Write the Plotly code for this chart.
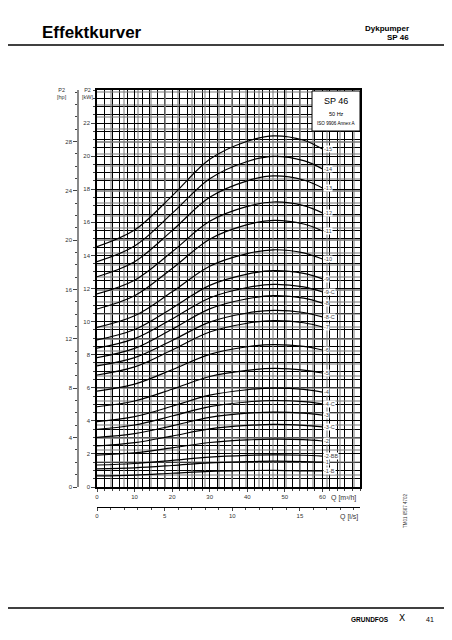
import plotly.graph_objects as go

# page geometry: the html body adds an 8 px margin, so the figure is 8 px smaller
OFF = 8
W, H = 452 - OFF, 640 - OFF
ML, MR, MT, MB = 32, 92, 82, 120
PW = W - ML - MR
PH = H - MT - MB


def px(x):
    # page pixel x -> paper coord
    return (x - OFF - ML) / PW


def py(y):
    # page pixel y -> paper coord
    return (H - MB - (y - OFF)) / PH


# flow points (m3/h) where the curves were read
q_points = [0, 10, 20, 30, 40, 47, 55, 60]

# P2 [kW] per pump model
p_15 = [14.53, 15.53, 17.60, 19.81, 20.90, 21.23, 20.96, 20.43]
p_14 = [13.62, 14.57, 16.54, 18.64, 19.68, 19.99, 19.73, 19.23]
p_13 = [12.71, 13.62, 15.50, 17.52, 18.51, 18.81, 18.56, 18.08]
p_12 = [11.67, 12.50, 14.22, 16.06, 16.96, 17.23, 17.01, 16.57]
p_11 = [10.76, 11.56, 13.21, 14.98, 15.86, 16.12, 15.90, 15.48]
p_10 = [9.65, 10.35, 11.80, 13.35, 14.11, 14.34, 14.15, 13.78]
p_9 = [8.89, 9.52, 10.81, 12.19, 12.87, 13.08, 12.91, 12.58]
p_9c = [8.39, 8.97, 10.16, 11.43, 12.06, 12.25, 12.10, 11.79]
p_8 = [7.82, 8.38, 9.54, 10.77, 11.38, 11.57, 11.42, 11.12]
p_8c = [7.32, 7.82, 8.86, 9.97, 10.52, 10.68, 10.55, 10.28]
p_7 = [6.77, 7.26, 8.28, 9.37, 9.90, 10.06, 9.93, 9.67]
p_6 = [5.80, 6.22, 7.09, 8.02, 8.48, 8.61, 8.50, 8.28]
p_5 = [4.85, 5.20, 5.91, 6.68, 7.05, 7.17, 7.07, 6.89]
p_4 = [3.95, 4.25, 4.88, 5.55, 5.88, 5.98, 5.90, 5.74]
p_4c = [3.49, 3.75, 4.29, 4.86, 5.14, 5.23, 5.16, 5.02]
p_3 = [3.00, 3.23, 3.70, 4.21, 4.46, 4.53, 4.47, 4.35]
p_3c = [2.48, 2.68, 3.08, 3.51, 3.72, 3.79, 3.73, 3.63]
p_2 = [1.93, 2.07, 2.37, 2.69, 2.85, 2.89, 2.86, 2.78]
p_2bb = [1.33, 1.42, 1.61, 1.81, 1.91, 1.94, 1.92, 1.87]
p_1 = [1.09, 1.16, 1.30, 1.46, 1.53, 1.56, 1.54, 1.50]
p_1b = [0.67, 0.72, 0.83, 0.94, 0.99, 1.01, 0.98, 0.97]

curves = [
    ("15", p_15), ("14", p_14), ("13", p_13), ("12", p_12), ("11", p_11),
    ("10", p_10), ("9", p_9), ("9-C", p_9c), ("8", p_8), ("8-C", p_8c),
    ("7", p_7), ("6", p_6), ("5", p_5), ("4", p_4), ("4-C", p_4c),
    ("3", p_3), ("3-C", p_3c), ("2", p_2), ("2-BB", p_2bb), ("1", p_1),
    ("1-B", p_1b),
]

q_ticks = [0, 10, 20, 30, 40, 50, 60]
ls_ticks = [0, 5, 10, 15]
kw_ticks = list(range(0, 23, 2))
hp_ticks = list(range(0, 29, 4))

Q_MAX = 70
KW_MAX = 24
M3H_PER_LS = 3.6
KW_PER_HP = 0.7457

FONT = "Liberation Sans"
GRAY_GRID = "rgba(120,120,120,0.5)"

fig = go.Figure()

for name, vals in curves:
    fig.add_trace(go.Scatter(
        x=q_points, y=vals, mode="lines",
        line=dict(color="black", width=1.2, shape="spline", smoothing=1.0),
        hoverinfo="skip", showlegend=False,
    ))
    fig.add_annotation(
        x=60.2, y=vals[-1], xref="x", yref="y", text="-" + name,
        showarrow=False, xanchor="left", yanchor="middle",
        font=dict(family=FONT, size=5.5, color="#444"),
        bgcolor="white", borderpad=0,
    )

# invisible traces so the l/s and hp overlay axes get their subplots
fig.add_trace(go.Scatter(x=[0], y=[0], xaxis="x2", yaxis="y", mode="markers",
                         marker=dict(opacity=0), hoverinfo="skip", showlegend=False))
fig.add_trace(go.Scatter(x=[0], y=[0], xaxis="x", yaxis="y2", mode="markers",
                         marker=dict(opacity=0), hoverinfo="skip", showlegend=False))

x_dom = [px(97), 1]
y_dom = [py(487), 1]

fig.update_layout(
    width=W, height=H,
    margin=dict(l=ML, r=MR, t=MT, b=MB, autoexpand=False),
    paper_bgcolor="white", plot_bgcolor="white",
    font=dict(family=FONT, color="black"),
    xaxis=dict(
        domain=x_dom, range=[0, Q_MAX], anchor="y",
        tickmode="array", tickvals=q_ticks, ticks="outside", ticklen=3,
        tickfont=dict(size=6, color="#333"),
        showgrid=True, gridcolor="black", gridwidth=0.9,
        minor=dict(dtick=2, tick0=0, showgrid=True, gridcolor="black",
                   gridwidth=0.9, ticks="outside", ticklen=2),
        showline=True, mirror=True, linecolor="black", linewidth=1.5,
        zeroline=False,
    ),
    yaxis=dict(
        domain=y_dom, range=[0, KW_MAX], anchor="x",
        tickmode="array", tickvals=kw_ticks, ticks="outside", ticklen=4,
        tickfont=dict(size=6, color="#333"),
        showgrid=True, gridcolor="black", gridwidth=0.9,
        minor=dict(dtick=0.5, tick0=0, showgrid=True, gridcolor="black",
                   gridwidth=0.9, ticks="outside", ticklen=2),
        showline=True, mirror=True, linecolor="black", linewidth=1.5,
        zeroline=False,
    ),
    xaxis2=dict(
        domain=x_dom, range=[0, Q_MAX / M3H_PER_LS], overlaying="x",
        anchor="free", position=py(507), side="bottom",
        tickmode="array", tickvals=ls_ticks, ticks="outside", ticklen=3,
        tickfont=dict(size=6, color="#333"),
        showgrid=True, gridcolor=GRAY_GRID, gridwidth=2,
        minor=dict(dtick=1, tick0=0, showgrid=True, gridcolor=GRAY_GRID,
                   gridwidth=2, ticks="outside", ticklen=2),
        showline=True, linecolor="black", linewidth=1, zeroline=False,
    ),
    yaxis2=dict(
        domain=y_dom, range=[0, KW_MAX / KW_PER_HP], overlaying="y",
        anchor="free", position=px(78), side="left",
        tickmode="array", tickvals=hp_ticks, ticks="outside", ticklen=4,
        tickfont=dict(size=6, color="#333"),
        showgrid=True, gridcolor=GRAY_GRID, gridwidth=2,
        minor=dict(dtick=1, tick0=0, showgrid=True, gridcolor=GRAY_GRID,
                   gridwidth=2, ticks="outside", ticklen=2),
        showline=True, linecolor="#888", linewidth=1.5, zeroline=False,
    ),
)

# header / footer rules
fig.add_shape(type="line", xref="paper", yref="paper",
              x0=px(OFF), x1=px(452 + OFF), y0=py(45), y1=py(45),
              line=dict(color="black", width=1.5))
fig.add_shape(type="line", xref="paper", yref="paper",
              x0=px(OFF), x1=px(452 + OFF), y0=py(608), y1=py(608),
              line=dict(color="black", width=1.5))

# SP 46 box
fig.add_shape(type="rect", xref="paper", yref="paper",
              x0=px(312), x1=px(360), y0=py(131), y1=py(91),
              fillcolor="white", line=dict(color="black", width=1))


def note(x, y, text, size, xanchor="center", bold=False, color="black", angle=0):
    if bold:
        text = "<b>" + text + "</b>"
    fig.add_annotation(x=px(x), y=py(y), xref="paper", yref="paper", text=text,
                       showarrow=False, xanchor=xanchor, yanchor="middle",
                       textangle=angle, font=dict(family=FONT, size=size, color=color))


note(336, 101, "SP 46", 9)
note(336, 114, "50 Hz", 5.5)
note(336, 123, "ISO 9906 Annex A", 4.6)

note(40, 32, "Effektkurver", 17, xanchor="left", bold=True)
note(411, 29, "Dykpumper", 8, xanchor="right", bold=True)
note(411, 38, "SP 46", 8, xanchor="right", bold=True)

note(61.5, 93, "P2<br>[hp]", 5.5, color="#333")
note(87.5, 93, "P2<br>[kW]", 5.5, color="#333")

note(343, 498, "Q [m³/h]", 7, color="#333")
note(349, 517, "Q [l/s]", 7, color="#333")
note(405, 511, "TM01 6567 4702", 4.5, color="#333", angle=-90)

note(370, 619, "GRUNDFOS", 6.5, bold=True)
note(402, 618, "ꓫ", 9)
note(430, 619, "41", 7)

fig.write_html("out.html")
